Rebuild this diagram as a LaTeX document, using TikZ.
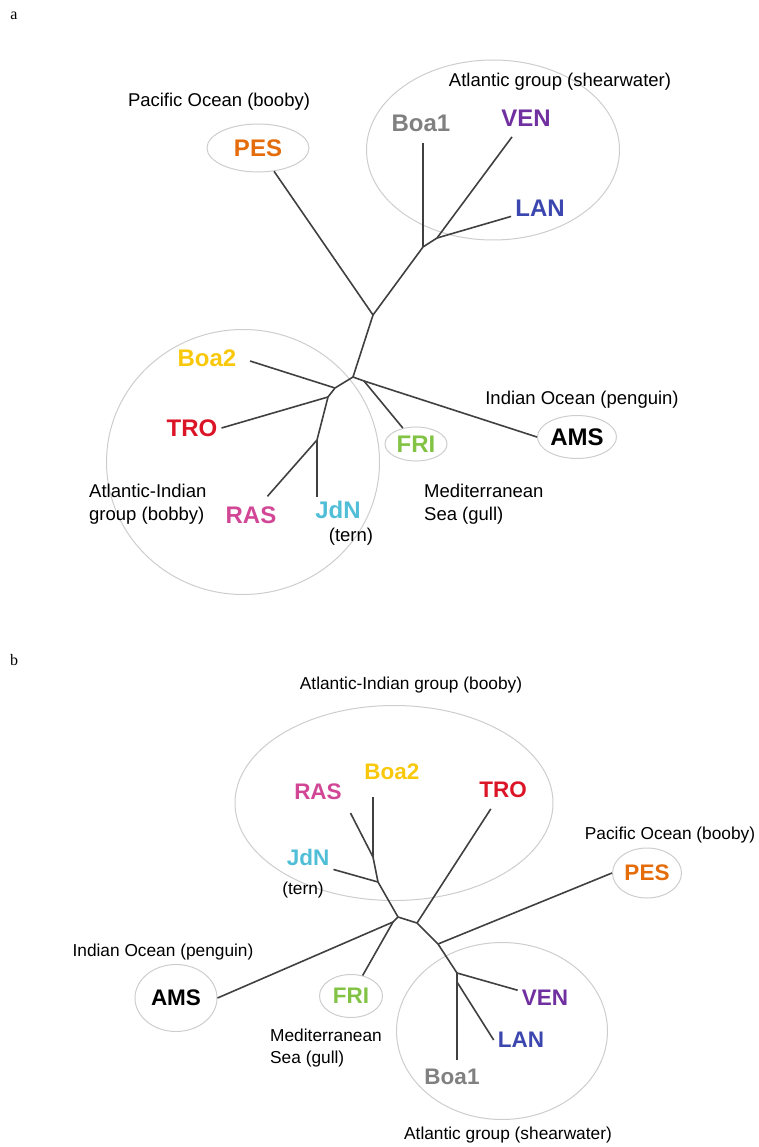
\documentclass[tikz,border=0pt]{standalone}
\usepackage{fontspec}
\setmainfont{Liberation Serif}
\setsansfont{Liberation Sans}
\usepackage{tikz}
\usetikzlibrary{shapes.geometric, calc}
\definecolor{pescol}{RGB}{228,108,10}
\definecolor{boaonecol}{RGB}{128,128,128}
\definecolor{vencol}{RGB}{112,48,160}
\definecolor{lancol}{RGB}{60,70,175}
\definecolor{boatwocol}{RGB}{250,200,10}
\definecolor{trocol}{RGB}{220,20,40}
\definecolor{rascol}{RGB}{210,70,150}
\definecolor{jdncol}{RGB}{80,190,215}
\definecolor{fricol}{RGB}{130,195,70}
\definecolor{ringgray}{RGB}{205,205,205}

\begin{document}
\begin{tikzpicture}[x=1pt, y=-1pt,
  taxon/.style={font=\sffamily\bfseries\fontsize{24}{26}\selectfont, inner sep=4pt},
  taxonb/.style={taxon, font=\sffamily\bfseries\fontsize{22.5}{25}\selectfont},
  region/.style={font=\sffamily\fontsize{18.5}{23}\selectfont, inner sep=0pt},
  regionb/.style={region, font=\sffamily\fontsize{17.3}{22}\selectfont},
  group/.style={ellipse, draw=ringgray, line width=1pt, inner sep=0pt},
  branch/.style={draw=black!75, line width=1.6pt, line join=round},
  panel/.style={font=\rmfamily\fontsize{16}{18}\selectfont},
]
  \useasboundingbox (0,0) rectangle (758,1147);

  % panel a
  \node[panel] (alabel) at (14,16) {a};
  \node[group, minimum width=253pt, minimum height=180pt] (aAtl) at (493,150) {};
  \node[group, minimum width=273pt, minimum height=265pt] (aAtlInd) at (243,462) {};

  \node[region] (aPacific) at (219,102) {Pacific Ocean (booby)};
  \node[region] (aAtlText) at (560,82) {Atlantic group (shearwater)};
  \node[region] (aIndian) at (582,400) {Indian Ocean (penguin)};
  \node[region, anchor=west, align=left] (aAtlIndText) at (89,504) {Atlantic-Indian\\group (bobby)};
  \node[region] (atern) at (351,537) {(tern)};
  \node[region, anchor=west, align=left] (aMed) at (424,504) {Mediterranean\\Sea (gull)};

  \node[taxon, group, text=pescol, minimum width=102pt, minimum height=48pt] (aPES) at (258,148) {PES};
  \node[taxon, group, text=fricol, minimum width=62pt, minimum height=34pt] (aFRI) at (416,444) {FRI};
  \node[taxon, group, text=black, minimum width=79pt, minimum height=43pt] (aAMS) at (577,437) {AMS};
  \node[taxon, text=boaonecol] (aBoa1) at (421,123) {Boa1};
  \node[taxon, text=vencol] (aVEN) at (526,118) {VEN};
  \node[taxon, text=lancol] (aLAN) at (540,208) {LAN};
  \node[taxon, text=boatwocol] (aBoa2) at (207,358) {Boa2};
  \node[taxon, text=trocol] (aTRO) at (192,428) {TRO};
  \node[taxon, text=rascol] (aRAS) at (251,515) {RAS};
  \node[taxon, text=jdncol] (aJdN) at (338,510) {JdN};

  \coordinate (ar) at (373,315);
  \coordinate (aj1) at (423,247);
  \coordinate (aj2) at (437,238);
  \coordinate (aj3) at (353,377);
  \coordinate (aj4) at (364,381);
  \coordinate (aj5) at (335,388);
  \coordinate (aj6) at (328,397);
  \coordinate (aj7) at (317,440);

  \draw[branch] (aPES) -- (ar) -- (aj1) -- (aj2);
  \draw[branch, shorten >=8pt] (aj2) -- (aVEN);
  \draw[branch] (aj2) -- (aLAN);
  \draw[branch, shorten >=7pt] (aj1) -- (aj1 |- aBoa1.south);
  \draw[branch] (ar) -- (aj3) -- (aj4) -- (aAMS.west);
  \draw[branch] (aj4) -- (aFRI);
  \draw[branch, shorten >=8pt] (aj3) -- (aj5) -- (aj6) -- (aj7) -- (aRAS);
  \draw[branch, shorten >=10pt] (aj5) -- (aBoa2.east);
  \draw[branch] (aj6) -- (aTRO.east);
  \draw[branch] (aj7) -- (aj7 |- aJdN.north);

  % panel b
  \node[panel] (blabel) at (14,660) {b};
  \node[group, minimum width=318pt, minimum height=195pt] (bAtlInd) at (394,803) {};
  \node[group, minimum width=211pt, minimum height=177pt] (bAtl) at (502,1031) {};

  \node[regionb] (bAtlIndText) at (411,685) {Atlantic-Indian group (booby)};
  \node[regionb] (btern) at (303,890) {(tern)};
  \node[regionb] (bPacific) at (670,835) {Pacific Ocean (booby)};
  \node[regionb] (bIndian) at (163,952) {Indian Ocean (penguin)};
  \node[regionb, anchor=west, align=left] (bMed) at (270,1048) {Mediterranean\\Sea (gull)};
  \node[regionb] (bAtlText) at (508,1135) {Atlantic group (shearwater)};

  \node[taxonb, group, text=pescol, minimum width=69pt, minimum height=50pt] (bPES) at (647,873) {PES};
  \node[taxonb, group, text=fricol, minimum width=63pt, minimum height=43pt] (bFRI) at (351,996) {FRI};
  \node[taxonb, group, text=black, minimum width=82pt, minimum height=67pt] (bAMS) at (176,998) {AMS};
  \node[taxonb, text=rascol] (bRAS) at (318,792) {RAS};
  \node[taxonb, text=boatwocol] (bBoa2) at (392,772) {Boa2};
  \node[taxonb, text=trocol] (bTRO) at (503,790) {TRO};
  \node[taxonb, text=jdncol] (bJdN) at (308,857) {JdN};
  \node[taxonb, text=vencol] (bVEN) at (545,998) {VEN};
  \node[taxonb, text=lancol] (bLAN) at (521,1040) {LAN};
  \node[taxonb, text=boaonecol] (bBoa1) at (452,1077) {Boa1};

  \coordinate (bj1) at (373,857);
  \coordinate (bj2) at (378,882);
  \coordinate (bj3) at (398,917);
  \coordinate (bj4) at (393,922);
  \coordinate (bj5) at (417,923);
  \coordinate (bj6) at (438,944);
  \coordinate (bj7) at (457,973);
  \coordinate (bj8) at (457,982);

  \draw[branch, shorten <=10pt] (bRAS.south east) -- (bj1) -- (bj2) -- (bj3) -- (bj5) -- (bj6) -- (bj7) -- (bj8);
  \draw[branch, shorten >=5pt] (bj8) -- (bj8 |- bBoa1.north);
  \draw[branch, shorten >=13pt] (bj1) -- (bj1 |- bBoa2.south);
  \draw[branch] (bj2) -- (bJdN.south east);
  \draw[branch] (bj3) -- (bj4) -- (bAMS.east);
  \draw[branch] (bj4) -- (bFRI);
  \draw[branch, shorten >=8pt] (bj5) -- (bTRO);
  \draw[branch] (bj6) -- (bPES.west);
  \draw[branch] (bj7) -- (bVEN);
  \draw[branch] (bj8) -- (bLAN.west);
\end{tikzpicture}
\end{document}
